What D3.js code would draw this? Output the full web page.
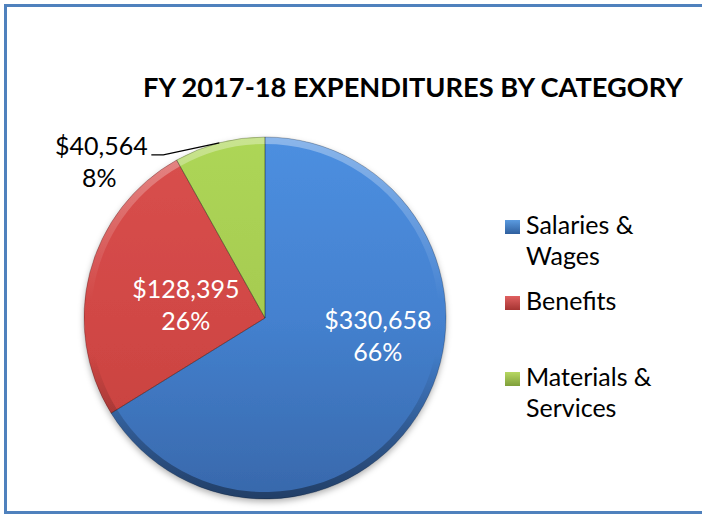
<!DOCTYPE html>
<html><head><meta charset="utf-8">
<script src="https://cdn.jsdelivr.net/npm/d3@7"></script>
<style>html,body{margin:0;padding:0;background:#fff;}svg{display:block;}</style>
</head><body>
<svg id="c" width="702" height="516"></svg>
<script>
const categories = ["Salaries & Wages", "Benefits", "Materials & Services"];
const legendLines = [["Salaries &", "Wages"], ["Benefits"], ["Materials &", "Services"]];
const values = [330658, 128395, 40564];
const title = "FY 2017-18 EXPENDITURES BY CATEGORY";

// styles / layout (not data)
const topColors = ["#4d8fe0", "#d9504e", "#add657"];
const midColors = ["#4481cf", "#d14745", "#a6cb50"];
const botColors = ["#3868ab", "#c4403e", "#9bbd49"];
const legendColors = [["#5b9be0", "#2f5f9e"], ["#e06060", "#a53432"], ["#b7d862", "#7f9f3a"]];
const labelOffsets = [[18, -42], [26, 7], [0, 0]];
const FONT = "Lato, 'Open Sans', sans-serif";

const svg = d3.select("#c");
const W = 702, H = 516;
svg.append("rect").attr("width", W).attr("height", H).attr("fill", "#fff");
svg.append("rect").attr("x", 5.5).attr("y", 5.5).attr("width", 720).attr("height", 507)
  .attr("fill", "#fff").attr("stroke", "#4f81bd").attr("stroke-width", 3);

const defs = svg.append("defs");
const cx = 265, cy = 318, R = 181;

const f = defs.append("filter").attr("id", "sh").attr("x", "-20%").attr("y", "-20%").attr("width", "140%").attr("height", "140%");
f.append("feDropShadow").attr("dx", 0).attr("dy", 3).attr("stdDeviation", 3).attr("flood-color", "#000").attr("flood-opacity", 0.3);

categories.forEach((c, i) => {
  const g = defs.append("linearGradient").attr("id", "g" + i)
    .attr("gradientUnits", "userSpaceOnUse").attr("x1", 0).attr("y1", -R).attr("x2", 0).attr("y2", R);
  g.append("stop").attr("offset", "0%").attr("stop-color", topColors[i]);
  g.append("stop").attr("offset", "50%").attr("stop-color", midColors[i]);
  g.append("stop").attr("offset", "100%").attr("stop-color", botColors[i]);
  const lg = defs.append("linearGradient").attr("id", "lg" + i).attr("x1", 0).attr("y1", 0).attr("x2", 0).attr("y2", 1);
  lg.append("stop").attr("offset", "0%").attr("stop-color", legendColors[i][0]);
  lg.append("stop").attr("offset", "100%").attr("stop-color", legendColors[i][1]);
});
const rg = defs.append("linearGradient").attr("id", "rim")
  .attr("gradientUnits", "userSpaceOnUse").attr("x1", 0).attr("y1", -R).attr("x2", 0).attr("y2", R);
rg.append("stop").attr("offset", "0%").attr("stop-color", "#fff").attr("stop-opacity", 0.35);
rg.append("stop").attr("offset", "45%").attr("stop-color", "#fff").attr("stop-opacity", 0);
rg.append("stop").attr("offset", "60%").attr("stop-color", "#000").attr("stop-opacity", 0);
rg.append("stop").attr("offset", "100%").attr("stop-color", "#000").attr("stop-opacity", 0.4);

// title
svg.append("text").attr("x", 413).attr("y", 97).attr("text-anchor", "middle")
  .attr("font-family", FONT).attr("font-weight", "bold").attr("font-size", 27)
  .attr("textLength", 540).attr("lengthAdjust", "spacingAndGlyphs")
  .attr("fill", "#000").text(title);

const pie = d3.pie().sort(null).value(d => d);
const arcs = pie(values);
const arc = d3.arc().innerRadius(0).outerRadius(R);
const total = d3.sum(values);
const pieG = svg.append("g").attr("transform", `translate(${cx},${cy})`);

pieG.append("g").attr("filter", "url(#sh)").selectAll("path").data(arcs).join("path")
  .attr("d", arc).attr("fill", (d, i) => `url(#g${i})`);
// bevel rim
const bevel = d3.arc().innerRadius(R - 7).outerRadius(R);
pieG.selectAll("path.bev").data(arcs).join("path").attr("class", "bev")
  .attr("d", bevel).attr("fill", "url(#rim)");
pieG.selectAll("path.sep").data(arcs).join("path").attr("class", "sep")
  .attr("d", arc).attr("fill", "none").attr("stroke", "rgba(0,0,0,0.3)").attr("stroke-width", 0.8);

const money = d3.format("$,");
const pct = d3.format(".0%");
const labelArc = d3.arc().innerRadius(R * 0.6).outerRadius(R * 0.6);

arcs.forEach((d, i) => {
  let x, y, fill;
  if (i < 2) {
    const c = labelArc.centroid(d);
    x = cx + c[0] + labelOffsets[i][0];
    y = cy + c[1] + labelOffsets[i][1];
    fill = "#fff";
  } else {
    // outside label with leader line
    const a = (d.startAngle + d.endAngle) / 2;
    const px = cx + R * Math.sin(a), py = cy - R * Math.cos(a);
    x = px - 118; y = py + 12;
    fill = "#000";
    svg.append("path").attr("d", `M${px},${py} L${x + 62},${y} L${x + 50},${y}`)
      .attr("fill", "none").attr("stroke", "#000").attr("stroke-width", 1.3);
  }
  const t = svg.append("text").attr("text-anchor", "middle").attr("font-family", FONT)
    .attr("font-size", 25).attr("fill", fill);
  t.append("tspan").attr("x", x).attr("y", y).text(money(values[i]));
  t.append("tspan").attr("x", i < 2 ? x : x - 2).attr("y", y + 32).text(pct(values[i] / total));
});

// legend
const legendY = [234, 310, 386];
legendLines.forEach((lines, i) => {
  svg.append("rect").attr("x", 505).attr("y", legendY[i] - 14).attr("width", 15).attr("height", 14)
    .attr("fill", `url(#lg${i})`);
  const t = svg.append("text").attr("font-family", FONT).attr("font-size", 25).attr("fill", "#000");
  lines.forEach((l, j) => t.append("tspan").attr("x", 526).attr("y", legendY[i] + j * 31).text(l));
});
</script>
</body></html>
